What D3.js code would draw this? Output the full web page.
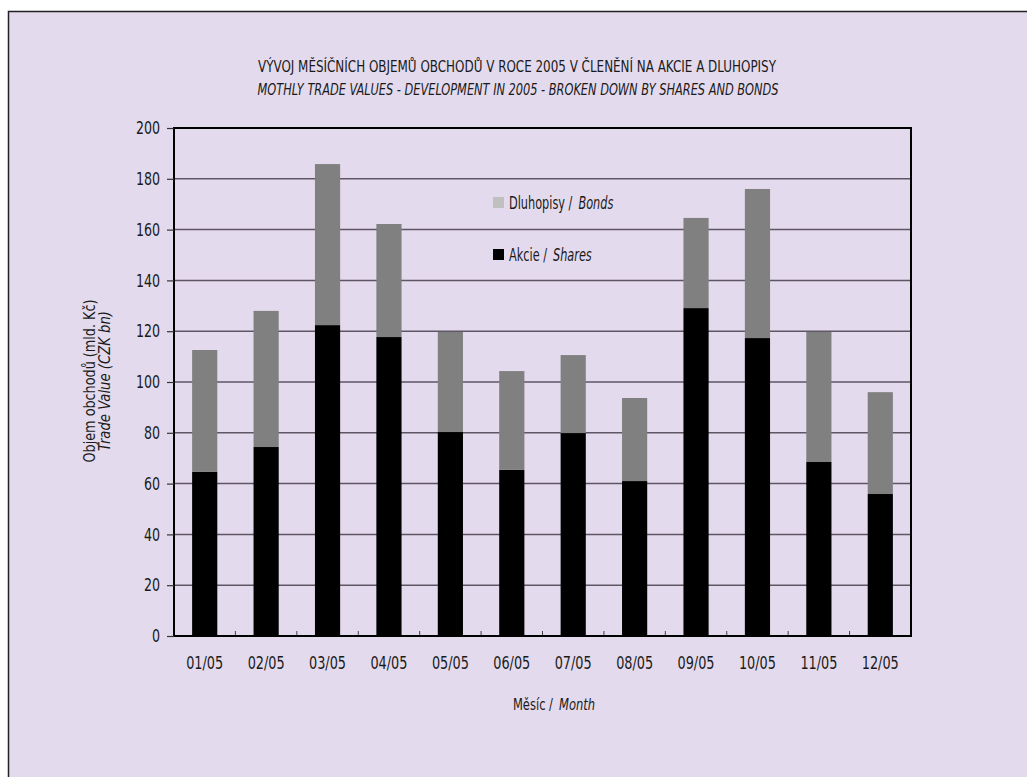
<!DOCTYPE html>
<html>
<head>
<meta charset="utf-8">
<script src="https://cdn.jsdelivr.net/npm/d3@7/dist/d3.min.js"></script>
<style>
  html, body { margin: 0; padding: 0; background: #ffffff; }
  svg { display: block; }
  text { font-family: "DejaVu Sans Condensed", "DejaVu Sans", sans-serif; font-stretch: condensed; fill: #1a1a1a; }
</style>
</head>
<body>
<svg id="chart" width="1027" height="777"></svg>
<script>
// ---- Data ----
const months = ["01/05", "02/05", "03/05", "04/05", "05/05", "06/05", "07/05", "08/05", "09/05", "10/05", "11/05", "12/05"];
const shares = [64.6, 74.4, 122.4, 117.7, 80.3, 65.4, 79.9, 61.0, 129.1, 117.3, 68.5, 55.9];
const bonds  = [48.0, 53.6, 63.4, 44.5, 39.4, 38.9, 30.7, 32.7, 35.5, 58.7, 51.2, 40.1];
const yTicks = [0, 20, 40, 60, 80, 100, 120, 140, 160, 180, 200];
const titleCz = "VÝVOJ MĚSÍČNÍCH OBJEMŮ OBCHODŮ V ROCE 2005 V ČLENĚNÍ NA AKCIE A DLUHOPISY";
const titleEn = "MOTHLY TRADE VALUES - DEVELOPMENT IN 2005 - BROKEN DOWN BY SHARES AND BONDS";

// ---- Layout ----
const svg = d3.select("#chart");
const bg = "#e4daed";
const plot = { left: 174, right: 911, top: 128, bottom: 636 };

function squeeze(sel, factor) {
  sel.each(function () {
    const w = this.getComputedTextLength();
    d3.select(this).attr("textLength", w * factor).attr("lengthAdjust", "spacingAndGlyphs");
  });
}
function fitWidth(sel, width) {
  sel.attr("textLength", width).attr("lengthAdjust", "spacingAndGlyphs");
}
// two-part label drawn in a horizontally scaled group: "cz /" regular + italic "en"
function bilabel(parent, x0, yb, size, cz, en, factor, gap) {
  const g = parent.append("g").attr("transform", `translate(${x0},${yb}) scale(${factor},1)`);
  const a = g.append("text").attr("x", 0).attr("y", 0).style("font-size", size + "px").text(cz + " /");
  const wa = a.node().getComputedTextLength();
  const b = g.append("text").attr("x", wa + gap / factor).attr("y", 0).style("font-size", size + "px")
    .style("font-style", "italic").text(en);
  const wb = b.node().getComputedTextLength();
  return { g, width: (wa + wb) * factor + gap };
}

svg.append("rect").attr("x", 8.5).attr("y", 11.5).attr("width", 1030).attr("height", 780)
  .attr("fill", bg).attr("stroke", "#222").attr("stroke-width", 1.5);

const x = d3.scaleBand().domain(months).range([plot.left, plot.right]).paddingInner(0.59).paddingOuter(0.295);
const xb = d3.scaleBand().domain(months).range([plot.left, plot.right]).padding(0);
const y = d3.scaleLinear().domain([0, 200]).range([plot.bottom, plot.top]);

// gridlines
svg.append("g").selectAll("line").data(yTicks.filter(t => t > 0 && t < 200)).join("line")
  .attr("x1", plot.left).attr("x2", plot.right)
  .attr("y1", d => y(d)).attr("y2", d => y(d))
  .attr("stroke", "#5e5664").attr("stroke-width", 1.5);

// stacked data
const rows = months.map((m, i) => ({ month: m, shares: shares[i], bonds: bonds[i] }));
const stack = d3.stack().keys(["shares", "bonds"])(rows);
const colors = { shares: "#000000", bonds: "#808080" };

svg.append("g").selectAll("g").data(stack).join("g")
  .attr("fill", d => colors[d.key])
  .selectAll("rect").data(d => d).join("rect")
  .attr("x", d => x(d.data.month))
  .attr("width", x.bandwidth())
  .attr("y", d => y(d[1]))
  .attr("height", d => y(d[0]) - y(d[1]));

// x minor ticks at category boundaries (inside)
svg.append("g").selectAll("line").data(months.slice(1)).join("line")
  .attr("x1", d => xb(d)).attr("x2", d => xb(d))
  .attr("y1", plot.bottom).attr("y2", plot.bottom - 5)
  .attr("stroke", "#444").attr("stroke-width", 1);

// frame
svg.append("rect").attr("x", plot.left).attr("y", plot.top)
  .attr("width", plot.right - plot.left).attr("height", plot.bottom - plot.top)
  .attr("fill", "none").attr("stroke", "#000").attr("stroke-width", 2);

// y axis
const yAxis = svg.append("g").attr("transform", `translate(${plot.left},0)`)
  .call(d3.axisLeft(y).tickValues(yTicks).tickSize(7).tickPadding(7));
yAxis.select(".domain").remove();
yAxis.selectAll(".tick line").attr("stroke", "#333").attr("stroke-width", 1.2);
yAxis.selectAll(".tick text").style("font-size", "18px").attr("fill", "#1a1a1a")
  .style("font-family", '"DejaVu Sans Condensed", "DejaVu Sans", sans-serif');
squeeze(yAxis.selectAll(".tick text"), 0.78);

// x axis labels
const xAxis = svg.append("g").attr("transform", `translate(0,${plot.bottom})`)
  .call(d3.axisBottom(xb).tickSize(0).tickPadding(20));
xAxis.select(".domain").remove();
xAxis.selectAll(".tick text").style("font-size", "18px").attr("fill", "#1a1a1a")
  .style("font-family", '"DejaVu Sans Condensed", "DejaVu Sans", sans-serif');
fitWidth(xAxis.selectAll(".tick text"), 37);

// titles
svg.append("text").attr("x", 517).attr("y", 72).attr("text-anchor", "middle")
  .style("font-size", "16px").call(fitWidth, 518).text(titleCz);
svg.append("text").attr("x", 518).attr("y", 95).attr("text-anchor", "middle")
  .style("font-size", "16px").style("font-style", "italic").call(fitWidth, 521).text(titleEn);

// y title
const yt = svg.append("g").attr("transform", "translate(95,381) rotate(-90)");
yt.append("text").attr("x", 0).attr("y", 0).attr("text-anchor", "middle").style("font-size", "15px")
  .call(fitWidth, 163).text("Objem obchodů (mld. Kč)");
yt.append("text").attr("x", 0).attr("y", 15).attr("text-anchor", "middle").style("font-size", "15px")
  .style("font-style", "italic").call(fitWidth, 140).text("Trade Value (CZK bn)");

// x title
const xtg = svg.append("g");
const xtl = bilabel(xtg, 0, 710, 16, "Měsíc", "Month", 0.8, 6);
xtg.attr("transform", `translate(${554 - xtl.width / 2},0)`);

// legend
const legend = [
  { cz: "Dluhopisy", en: "Bonds", color: "#c0c0c0", y: 197 },
  { cz: "Akcie", en: "Shares", color: "#000000", y: 249 }
];
const lg = svg.append("g");
legend.forEach(d => {
  lg.append("rect").attr("x", 493).attr("y", d.y).attr("width", 11).attr("height", 11).attr("fill", d.color);
  bilabel(lg, 509, d.y + 12, 17, d.cz, d.en, 0.74, 6);
});
</script>
</body>
</html>
